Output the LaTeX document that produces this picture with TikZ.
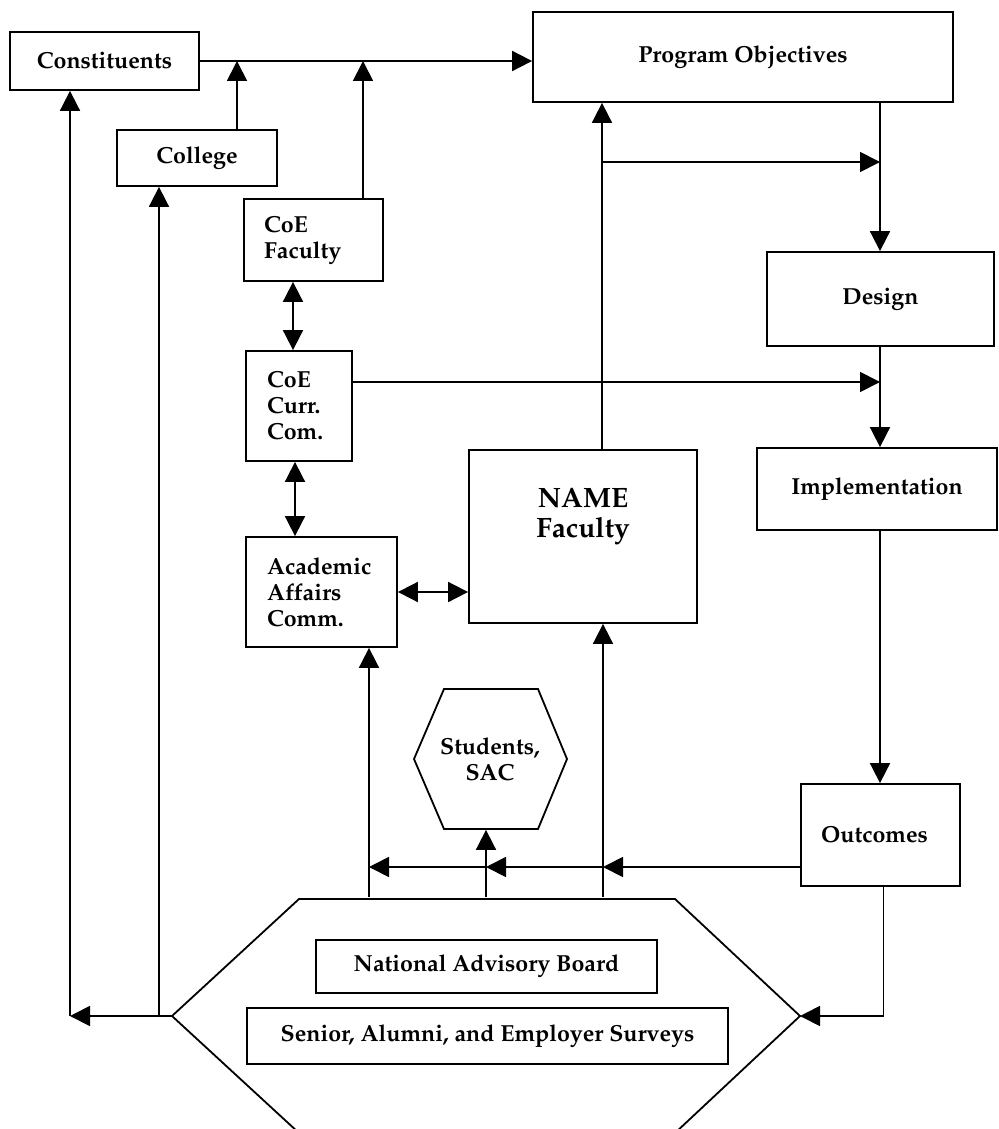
\documentclass[tikz,border=0pt]{standalone}
\usepackage[T1]{fontenc}
\usepackage{mathpazo}
\usetikzlibrary{arrows.meta}

\begin{document}
\begin{tikzpicture}[x=0.5pt, y=-0.5pt, line width=0.9pt,
    >={Triangle[length=10pt, width=10pt]},
    box/.style={draw, rectangle, inner sep=0pt, font=\fontsize{11.6}{13.2}\selectfont\bfseries},
    leftbox/.style={draw, rectangle, font=\fontsize{11.6}{13}\selectfont\bfseries, align=left, inner ysep=0pt}]
      \useasboundingbox (0,0) rectangle (998,1129);
      \node (cons)[box, minimum width=94.5pt, minimum height=29pt] at (104.5, 61) {Constituents};
      \node (college)[box, minimum width=80pt, minimum height=28pt] at (197, 158) {College};
      \node (po)[box, minimum width=210pt, minimum height=45pt] at (743, 57) {Program Objectives};
      \node (coef)[leftbox, inner xsep=10pt, text width=49.5pt, minimum height=41pt] at (313.5, 240) {CoE\\Faculty};
      \node (coecurr)[leftbox, inner xsep=10.5pt, text width=32pt, minimum height=55pt] at (299, 406) {CoE\\Curr.\\Com.};
      \node (acad)[leftbox, inner xsep=10.5pt, text width=54.5pt, minimum height=55pt] at (321.5, 592) {Academic\\Affairs\\Comm.};
      \node (name)[box, minimum width=114pt, minimum height=86.5pt,
        label={[font=\fontsize{14}{15}\selectfont\bfseries, align=center, yshift=10pt]center:NAME\\Faculty}] at (583, 536.5) {};
      \node (design)[box, minimum width=113.5pt, minimum height=47pt] at (880.5, 299) {Design};
      \node (impl)[box, minimum width=120pt, minimum height=41pt] at (877, 489) {Implementation};
      \node (outc)[box, minimum width=79.5pt, minimum height=51pt] at (880.5, 835) {\hspace*{-6pt}Outcomes};
      % students hexagon
      \draw (444, 689) -- (538, 689) -- (567, 759) -- (538, 829) -- (444, 829) -- (414, 759) -- cycle;
      \node (stud)[box, draw=none, align=center, minimum height=70pt] at (490, 759) {Students,\\SAC};
      % big hexagon
      \draw (299, 899) -- (675, 899) -- (800, 1016) -- (675, 1133) -- (299, 1133) -- (172, 1016) -- cycle;
      \coordinate (hexL) at (172, 1016);
      \coordinate (hexR) at (800, 1016);
      \node (nab)[box, minimum width=170.5pt, minimum height=26.5pt] at (486.5, 966.5) {National Advisory Board};
      \node (surv)[box, minimum width=240.5pt, minimum height=28pt] at (487.5, 1036) {Senior, Alumni, and Employer Surveys};
      % junctions
      \coordinate (j1) at (237, 61);
      \coordinate (j2) at (363, 61);
      \coordinate (l1) at (70, 1016);
      \coordinate (l2) at (159, 1016);
      \coordinate (n1) at (602, 162);
      \coordinate (d2) at (880, 382);
      \coordinate (b1) at (603, 867);
      \coordinate (b2) at (486, 867);
      \coordinate (b3) at (369, 867);
      \coordinate (h1) at (603, 897);
      \coordinate (h2) at (486, 897);
      \coordinate (h3) at (369, 897);
      \draw[->] (cons.east) -- (cons.east -| po.west);
      \draw[->] (college.north -| j1) -- (j1);
      \draw[->] (coef.north -| j2) -- (j2);
      \draw[->] (hexL) -- (l1);
      \draw[->] (l1) -- (cons.south -| l1);
      \draw[->] (l2) -- (college.south -| l2);
      \draw[<->] ([xshift=-10.25pt]coef.south) -- ([xshift=-10.25pt]coef.south |- coecurr.north);
      \draw[<->] ([xshift=-2pt]coecurr.south) -- ([xshift=-2pt]coecurr.south |- acad.north);
      \draw[<->] (acad.east) -- (acad.east -| name.west);
      \draw[->] (coecurr.east |- d2) -- (d2);
      \draw[->] (name.north -| n1) -- (po.south -| n1);
      \draw[->] (n1) -- (n1 -| d2);
      \draw[->] (po.south -| d2) -- (design.north -| d2);
      \draw[->] (design.south -| d2) -- (impl.north -| d2);
      \draw[->] (impl.south -| d2) -- (outc.north -| d2);
      \draw[->] (outc.west |- b1) -- (b1);
      \draw[->] (b1) -- (b2);
      \draw[->] (b2) -- (b3);
      \draw[->] (h1) -- (name.south -| h1);
      \draw[->] (h2) -- (stud.south -| h2);
      \draw[->] (h3) -- (acad.south -| h3);
      \draw[->] ([xshift=1.5pt]outc.south) |- (hexR);
\end{tikzpicture}
\end{document}
